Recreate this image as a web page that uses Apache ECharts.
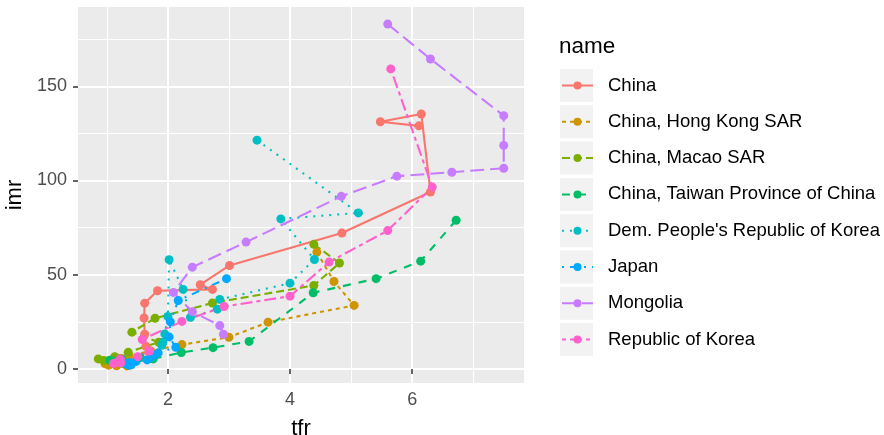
<!DOCTYPE html>
<html><head><meta charset="utf-8">
<script src="https://cdn.jsdelivr.net/npm/echarts@6/dist/echarts.min.js"></script>
<style>html,body{margin:0;padding:0;background:#fff}#c{width:884px;height:435px}</style>
</head><body><div id="c"></div>
<script>
// ---- data ----
const seriesNames = ['China', 'China, Hong Kong SAR', 'China, Macao SAR', 'China, Taiwan Province of China',
  "Dem. People's Republic of Korea", 'Japan', 'Mongolia', 'Republic of Korea'];

const chinaTfr = [6.11, 5.48, 6.15, 6.30, 4.85, 3.01, 2.53, 2.73, 1.83, 1.62, 1.61, 1.62, 1.64, 1.69];
const chinaImr = [129.0, 131.2, 135.3, 93.9, 72.1, 54.9, 44.7, 42.2, 41.5, 34.9, 27.0, 18.4, 12.0, 9.0];

const hongKongTfr = [4.44, 4.72, 5.05, 3.64, 3.00, 2.23, 1.72, 1.36, 1.24, 1.01, 0.97, 1.03, 1.16, 1.33];
const hongKongImr = [62.0, 46.4, 33.7, 24.8, 16.8, 12.9, 9.5, 7.0, 5.5, 4.0, 2.8, 2.0, 1.7, 1.6];

const macaoTfr = [4.39, 4.81, 4.39, 2.73, 1.79, 1.41, 1.85, 1.35, 1.13, 0.86, 0.95, 1.10, 1.20, 1.25];
const macaoImr = [66.1, 56.2, 44.3, 35.0, 26.9, 19.5, 14.2, 8.8, 6.5, 5.3, 4.5, 4.0, 3.5, 3.0];

const taiwanTfr = [6.72, 6.14, 5.41, 4.38, 3.33, 2.74, 2.22, 1.76, 1.75, 1.55, 1.25, 1.05, 1.10, 1.15];
const taiwanImr = [78.9, 57.2, 47.9, 40.4, 14.6, 11.3, 8.7, 5.3, 5.5, 6.0, 5.2, 4.6, 4.2, 4.0];

const dprkTfr = [3.46, 5.12, 3.85, 4.40, 4.00, 2.85, 2.81, 2.37, 2.25, 2.02, 2.00, 1.95, 1.92, 1.90];
const dprkImr = [121.4, 82.8, 79.6, 58.1, 45.5, 36.9, 31.7, 27.4, 42.2, 58.0, 27.8, 18.6, 14.2, 12.5];

const japanTfr = [2.96, 2.17, 2.04, 2.02, 2.13, 1.84, 1.75, 1.66, 1.48, 1.37, 1.30, 1.34, 1.40, 1.37];
const japanImr = [47.9, 36.3, 25.0, 17.0, 11.5, 8.5, 6.5, 4.8, 4.0, 3.3, 2.9, 2.5, 2.2, 1.9];

const mongoliaTfr = [5.60, 6.30, 7.50, 7.50, 7.50, 6.65, 5.75, 4.84, 3.28, 2.40, 2.09, 2.40, 2.85, 2.91];
const mongoliaImr = [183.0, 164.5, 134.4, 118.6, 106.5, 104.4, 102.3, 91.6, 67.3, 54.0, 40.6, 30.4, 23.0, 18.4];

const koreaTfr = [5.65, 6.33, 5.60, 4.64, 4.00, 2.92, 2.23, 1.58, 1.70, 1.51, 1.22, 1.19, 1.23, 1.11];
const koreaImr = [159.2, 96.5, 73.4, 56.7, 38.6, 33.1, 25.2, 15.6, 9.5, 6.5, 5.3, 4.0, 3.2, 2.9];

const xTicks = [2, 4, 6];
const xMinorTicks = [1, 3, 5, 7];
const yTicks = [0, 50, 100, 150];
const yMinorTicks = [25, 75, 125, 175];

// ---- styling ----
const colors = ['#F8766D', '#CD9600', '#7CAE00', '#00BE67', '#00BFC4', '#00A9FF', '#C77CFF', '#FF61CC'];
const LW = 2.1;
const dashes = ['solid', [4, 4], [8, 4], [8, 8], [2, 6], [2, 6, 8, 6], [14, 6], [4, 4, 12, 4]];
const FONT = 'Liberation Sans, Arial, sans-serif';

const tfrs = [chinaTfr, hongKongTfr, macaoTfr, taiwanTfr, dprkTfr, japanTfr, mongoliaTfr, koreaTfr];
const imrs = [chinaImr, hongKongImr, macaoImr, taiwanImr, dprkImr, japanImr, mongoliaImr, koreaImr];
const pairs = tfrs.map((t, i) => t.map((v, j) => [v, imrs[i][j]]));

// ggplot-style 5% expansion of the data range
const allX = [].concat(...tfrs), allY = [].concat(...imrs);
const xLo = Math.min(...allX), xHi = Math.max(...allX);
const yLo = Math.min(...allY), yHi = Math.max(...allY);
const xMin = xLo - (xHi - xLo) * 0.05, xMax = xHi + (xHi - xLo) * 0.05;
const yMin = yLo - (yHi - yLo) * 0.05, yMax = yHi + (yHi - yLo) * 0.05;

const series = [];
seriesNames.forEach((n, i) => {
  series.push({
    type: 'line', name: n, data: pairs[i], xAxisIndex: 0, yAxisIndex: 0,
    symbol: 'circle', symbolSize: 9, showSymbol: false,
    lineStyle: { color: colors[i], width: LW, type: dashes[i] },
    itemStyle: { color: colors[i] }, z: 2, silent: true, animation: false,
    emphasis: { disabled: true }
  });
});
seriesNames.forEach((n, i) => {
  series.push({
    type: 'scatter', name: n + ' points', data: pairs[i], xAxisIndex: 0, yAxisIndex: 0,
    symbol: 'circle', symbolSize: 9, itemStyle: { color: colors[i], opacity: 1 },
    z: 3, silent: true, animation: false
  });
});

// legend key backgrounds
const legTop = 75.5, pitch = 36.3;
const keyRects = seriesNames.map((n, i) => ({
  type: 'rect', left: 560, top: legTop + 10 + i * pitch - 16.5,
  shape: { width: 33, height: 33 }, style: { fill: '#F2F2F2' }, z: 0
}));

const chart = echarts.init(document.getElementById('c'), null, { renderer: 'canvas' });
chart.setOption({
  animation: false,
  backgroundColor: '#FFFFFF',
  title: { text: 'name', left: 559, top: 35, padding: 0,
    textStyle: { fontSize: 22.5, fontWeight: 'normal', color: '#000', fontFamily: FONT } },
  grid: { left: 78, right: 360, top: 7, bottom: 52, show: true, backgroundColor: '#EBEBEB', borderWidth: 0,
    containLabel: false, outerBoundsMode: 'none' },
  graphic: keyRects,
  legend: {
    orient: 'vertical', left: 561, top: legTop, padding: 0, z: 10,
    itemWidth: 31, itemHeight: 10, itemGap: pitch - 20, selectedMode: false,
    data: seriesNames,
    textStyle: { fontSize: 18.5, color: '#000', fontFamily: FONT, lineHeight: 20, padding: [0, 0, 0, 10] }
  },
  xAxis: [
    { type: 'value', min: xMin, max: xMax, position: 'bottom',
      name: 'tfr', nameLocation: 'middle', nameGap: 35,
      nameTextStyle: { fontSize: 22, color: '#000', fontFamily: FONT },
      axisLine: { show: false },
      axisTick: { show: true, length: 5, customValues: xTicks, lineStyle: { color: '#333333', width: 1.5 } },
      axisLabel: { customValues: xTicks, fontSize: 18, color: '#4D4D4D', margin: 8, fontFamily: FONT },
      splitLine: { show: true, lineStyle: { color: '#FFFFFF', width: 2 } } },
    { type: 'value', min: xMin, max: xMax, position: 'top',
      axisLine: { show: false },
      axisTick: { show: false, customValues: xMinorTicks },
      axisLabel: { show: false, customValues: xMinorTicks },
      splitLine: { show: true, lineStyle: { color: '#FFFFFF', width: 1 } } }
  ],
  yAxis: [
    { type: 'value', min: yMin, max: yMax, position: 'left',
      name: 'imr', nameLocation: 'middle', nameGap: 51, nameRotate: 90,
      nameTextStyle: { fontSize: 22, color: '#000', fontFamily: FONT },
      axisLine: { show: false },
      axisTick: { show: true, length: 5, customValues: yTicks, lineStyle: { color: '#333333', width: 1.5 } },
      axisLabel: { customValues: yTicks, fontSize: 18, color: '#4D4D4D', margin: 11, fontFamily: FONT },
      splitLine: { show: true, lineStyle: { color: '#FFFFFF', width: 2 } } },
    { type: 'value', min: yMin, max: yMax, position: 'right',
      axisLine: { show: false },
      axisTick: { show: false, customValues: yMinorTicks },
      axisLabel: { show: false, customValues: yMinorTicks },
      splitLine: { show: true, lineStyle: { color: '#FFFFFF', width: 1 } } }
  ],
  series: series
});
</script></body></html>
